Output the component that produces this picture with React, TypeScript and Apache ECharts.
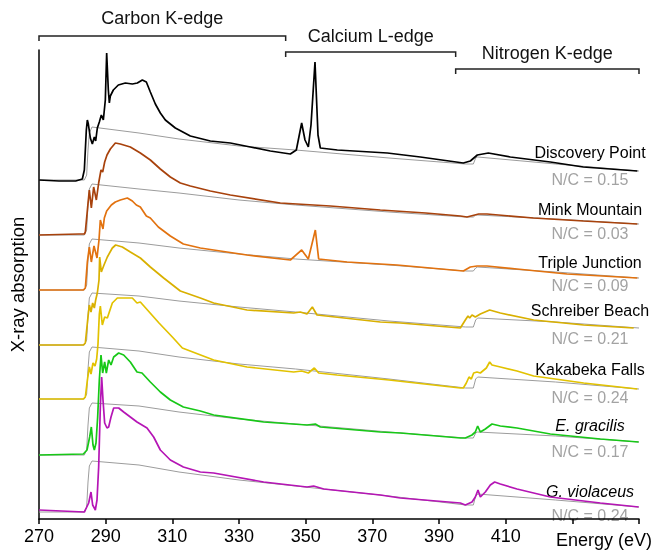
import React, { useEffect, useRef } from "react";
import * as echarts from "echarts";

const FONT = "'Liberation Sans', Arial, Helvetica, sans-serif";

// Energy axis (eV)
const energyMin = 270;
const energyMax = 450;
const energyStep = 20;
const hiddenTickLabels = [430, 450];

// Edge brackets at top
const edgeNames = ["Carbon K-edge", "Calcium L-edge", "Nitrogen K-edge"];
const edgeRanges = [[270, 344], [344, 395], [395, 450]];

// Samples
const sampleNames = ["Discovery Point", "Mink Mountain", "Triple Junction", "Schreiber Beach", "Kakabeka Falls", "E. gracilis", "G. violaceus"];
const sampleItalic = [false, false, false, false, false, true, true];
const nitrogenCarbonRatios = ["0.15", "0.03", "0.09", "0.21", "0.24", "0.17", "0.24"];
const sampleColors = ["#000000", "#A8420C", "#E2720F", "#D9B000", "#E2C200", "#17C817", "#B515B5"];

// Spectra (energy eV, stacked absorption a.u.)
const discoveryPoint = [
  [270, 339], [276, 338], [281, 338], [283, 340], [283.6, 349], [284.2, 389], [284.5, 399], [284.8, 395], [285.4, 381], [286, 375], [286.6, 382], [287, 378], [287.5, 391], [288.1, 397], [288.7, 404], [289.3, 399], [289.9, 419], [290.3, 466], [290.8, 429], [291.1, 416], [291.4, 423], [292.3, 429], [293.8, 434], [295.9, 436], [298, 435], [299.5, 436], [301, 439], [302.2, 437], [303.4, 427], [304.9, 415], [306.4, 406], [307.9, 399], [310.9, 391], [315.4, 383], [321.4, 378], [327.4, 376], [333.4, 372], [339.4, 368], [345.4, 365], [347.2, 369], [348.8, 396], [349.8, 379], [350.8, 372], [351.6, 394], [352.8, 457], [353.7, 384], [354.4, 371], [359.5, 369], [374.5, 366], [384.4, 362], [397.3, 356], [399.4, 358], [401.5, 364], [404.8, 366], [411.4, 362], [423.4, 357], [433.3, 352], [449.5, 348],
];
const minkMountain = [
  [270, 284], [282, 285], [283.6, 285], [283.9, 287], [284.6, 312], [285.1, 329], [285.7, 311], [286.4, 332], [287.2, 319], [287.9, 336], [288.6, 349], [289.1, 347], [289.7, 357], [290.4, 364], [291.4, 370], [292.9, 376], [294.4, 375], [297.4, 372], [300.4, 366], [303.4, 359], [306.4, 350], [309.4, 342], [312.4, 336], [315.4, 333], [321.4, 328], [327.4, 324], [342.4, 316], [357.4, 313], [372.4, 309], [386, 306], [396.4, 303], [398.4, 302], [401.9, 305], [404.4, 305], [418.3, 301], [433.3, 298], [449.5, 295],
];
const tripleJunction = [
  [270, 229], [283.3, 229], [283.9, 231], [284.5, 257], [285.1, 272], [285.7, 257], [286.5, 273], [287.4, 261], [288, 279], [288.4, 299], [289.2, 290], [289.6, 301], [290.3, 308], [291.7, 314], [292.9, 317], [294.4, 319], [296.5, 321], [298, 318], [299.2, 314], [300.4, 312], [302.2, 303], [303.4, 301], [305.8, 292], [309.4, 283], [313.3, 275], [318.4, 271], [322.4, 269], [332.4, 264], [345.4, 259], [348.8, 269], [350.8, 260], [352.9, 289], [353.9, 260], [362.4, 257], [377.4, 254], [397.3, 248], [399.4, 252], [401.4, 253], [404.4, 253], [413.4, 250], [428.4, 245], [449.5, 241],
];
const schreiberBeach = [
  [270, 174], [283.3, 174], [283.9, 176], [284.6, 199], [285.1, 214], [285.6, 207], [286.1, 216], [286.6, 211], [287, 219], [287.5, 226], [288, 239], [288.2, 262], [288.7, 247], [289.5, 254], [290.5, 262], [292, 271], [293, 274], [295, 272], [297.4, 267], [300.4, 261], [303.4, 252], [307.4, 241], [312.4, 228], [318.4, 221], [322.4, 216], [332.4, 209], [346.4, 206], [348.4, 207], [350.4, 205], [352, 212], [353.4, 204], [372.4, 197], [378.4, 196], [396.4, 191], [397.9, 199], [398.7, 203], [399.2, 201], [399.9, 204], [400.9, 202], [402.4, 205], [405.2, 209], [408.4, 206], [418.4, 199], [433.4, 194], [448.4, 191],
];
const kakabekaFalls = [
  [270, 120], [283.3, 120], [283.9, 122], [284.6, 141], [285.1, 152], [285.6, 145], [286.2, 156], [286.8, 153], [287.3, 160], [287.7, 175], [288.1, 205], [288.4, 213], [289, 194], [289.7, 202], [290.5, 201], [292, 216], [293.5, 221], [296.5, 221], [298, 221], [299.4, 216], [300.4, 217], [302, 211], [306, 196], [310, 182], [313, 171], [322.4, 159], [332.4, 152], [346.4, 147], [348.8, 148], [350.8, 146], [352.6, 151], [353.9, 146], [359.4, 144], [375, 139], [396.4, 131], [397.3, 131], [398.2, 136], [399, 142], [399.7, 140], [400.4, 146], [401.4, 147], [402.4, 146], [404.2, 151], [405.2, 157], [405.9, 154], [408.4, 152], [413.4, 148], [418.4, 143], [433.4, 136], [449.5, 130],
];
const eGracilis = [
  [270, 64], [283.3, 65], [284.4, 69], [285.2, 82], [285.7, 92], [286.2, 74], [286.6, 69], [287.1, 76], [287.6, 102], [288.1, 139], [288.6, 164], [289.1, 146], [289.7, 157], [290.2, 146], [290.9, 159], [291.6, 154], [292.4, 162], [293.9, 166], [295.4, 164], [297.4, 157], [299.4, 147], [300.9, 146], [303.4, 137], [306.4, 127], [309.4, 119], [313.3, 112], [318.4, 108], [322.4, 104], [337.4, 97], [350.4, 94], [352.9, 95], [354.4, 92], [372.4, 87], [378.4, 86], [396.4, 81], [397.9, 81], [399.9, 84], [400.9, 87], [401.6, 93], [402.4, 87], [403.9, 90], [405.9, 95], [408.4, 93], [413.4, 91], [423.4, 85], [438.4, 80], [449.9, 77],
];
const gViolaceus = [
  [270, 9], [283.6, 7], [283.9, 9], [284.9, 16], [285.6, 27], [286.1, 14], [286.9, 9], [287.4, 19], [287.9, 52], [288.4, 112], [288.8, 142], [289.2, 119], [289.7, 96], [290.4, 91], [290.9, 92], [291.6, 102], [292.4, 111], [293.9, 111], [295.4, 107], [297.4, 102], [299.4, 97], [302.4, 91], [304.4, 82], [306.4, 69], [309.4, 59], [313.3, 52], [318.4, 47], [322.4, 46], [337.4, 37], [350.4, 32], [352.4, 33], [355.4, 30], [372.4, 24], [378.4, 21], [396.4, 16], [397.9, 14], [399.9, 17], [400.9, 22], [401.7, 29], [402.4, 22], [403.9, 27], [405.4, 34], [406.7, 37], [408.4, 35], [413.4, 30], [423.4, 22], [438.4, 16], [449.9, 12],
];

// Edge-step baselines (gray)
const discoveryPointStep = [[270, 339], [283.6, 339], [284.3, 344], [284.7, 369], [285.1, 386], [285.9, 392], [300, 386], [312, 380], [330, 373], [347, 369], [375, 361], [398, 355], [400.3, 355], [401, 361], [401.6, 362], [425, 355], [450, 348]];
const minkMountainStep = [[270, 284], [283.6, 284], [284.3, 289], [284.7, 314], [285.1, 330], [285.9, 335], [300, 330], [312, 326], [330, 319], [347, 314], [375, 307], [398, 302], [400.3, 302], [401, 304], [401.6, 304], [425, 300], [450, 295]];
const tripleJunctionStep = [[270, 229], [283.6, 229], [284.3, 234], [284.7, 259], [285.1, 275], [285.9, 280], [300, 276], [312, 271], [330, 265], [347, 260], [375, 254], [398, 248], [400.3, 248], [401, 251], [401.6, 252], [425, 247], [450, 241]];
const schreiberBeachStep = [[270, 174], [283.6, 174], [284.3, 179], [284.7, 204], [285.1, 221], [285.9, 226], [300, 223], [312, 218], [330, 212], [347, 207], [375, 198], [398, 192], [400.3, 192], [401, 199], [401.6, 201], [425, 197], [450, 191]];
const kakabekaFallsStep = [[270, 120], [283.6, 120], [284.3, 125], [284.7, 150], [285.1, 167], [285.9, 172], [300, 168], [312, 162], [330, 155], [347, 150], [375, 140], [398, 131], [400.3, 131], [401, 140], [401.6, 142], [425, 137], [450, 130]];
const eGracilisStep = [[270, 64], [283.6, 64], [284.3, 69], [284.7, 94], [285.1, 111], [285.9, 116], [300, 113], [312, 107], [330, 100], [347, 95], [375, 87], [398, 81], [400.3, 81], [401, 86], [401.6, 87], [425, 83], [450, 77]];
const gViolaceusStep = [[270, 7], [283.6, 7], [284.3, 12], [284.7, 37], [285.1, 53], [285.9, 58], [300, 54], [312, 47], [330, 39], [347, 33], [375, 23], [398, 14], [400.3, 14], [401, 23], [401.6, 25], [425, 19], [450, 12]];

const spectra = [discoveryPoint, minkMountain, tripleJunction, schreiberBeach, kakabekaFalls, eGracilis, gViolaceus];
const steps = [discoveryPointStep, minkMountainStep, tripleJunctionStep, schreiberBeachStep, kakabekaFallsStep, eGracilisStep, gViolaceusStep];

// Layout (pixels)
const labelCenterX = 590;
const nameY = [152, 209, 262, 310, 369, 425, 491];
const ratioY = [179, 233, 285, 338, 397, 451, 515];
const bracketY = [36, 52, 69];
const bracketLabelY = [18, 36, 53];

export default function App() {
  const ref = useRef<HTMLDivElement>(null);
  useEffect(() => {
    if (!ref.current) return;
    const chart = echarts.init(ref.current, null, { renderer: "svg" });
    const series: any[] = [];
    steps.forEach((d) => {
      series.push({
        type: "line", data: d, symbol: "none", silent: true, z: 1,
        lineStyle: { color: "#9c9c9c", width: 1 },
      });
    });
    spectra.forEach((d, i) => {
      series.push({
        type: "line", data: d, symbol: "none", z: 2,
        lineStyle: { color: sampleColors[i], width: 1.7 },
      });
    });
    chart.setOption({
      animation: false,
      textStyle: { fontFamily: FONT },
      grid: { left: 39, right: 17, top: 50, bottom: 32, containLabel: false, outerBoundsMode: "none" },
      xAxis: {
        type: "value", min: energyMin, max: energyMax, interval: energyStep,
        axisLine: { lineStyle: { color: "#000", width: 1.5 } },
        axisTick: { length: 5, lineStyle: { color: "#000", width: 1.5 } },
        axisLabel: {
          fontSize: 18, color: "#000", margin: 8, fontFamily: FONT,
          formatter: (v: number) => (hiddenTickLabels.includes(v) ? "" : String(v)),
        },
        splitLine: { show: false },
      },
      yAxis: {
        type: "value", min: 0, max: 469,
        axisLine: { show: true, lineStyle: { color: "#000", width: 1.5 } },
        axisTick: { show: false }, axisLabel: { show: false }, splitLine: { show: false },
        name: "X-ray absorption", nameLocation: "middle", nameGap: 12,
        nameTextStyle: { fontSize: 18.5, color: "#000", fontFamily: FONT },
      },
      series,
    });

    const px = (e: number) => chart.convertToPixel({ gridIndex: 0 }, [e, 0])[0];
    const graphic: any[] = [];
    edgeRanges.forEach((r, i) => {
      const x1 = px(r[0]);
      const x2 = px(r[1]);
      const y = bracketY[i];
      graphic.push({
        type: "polyline",
        shape: { points: [[x1, y + 5], [x1, y], [x2, y], [x2, y + 5]] },
        style: { stroke: "#222", lineWidth: 1.5, fill: null },
      });
      graphic.push({
        type: "text", x: (x1 + x2) / 2, y: bracketLabelY[i],
        style: { text: edgeNames[i], fontSize: 18, fontFamily: FONT, fill: "#111", align: "center", verticalAlign: "middle", textAlign: "center", textVerticalAlign: "middle" },
      });
    });
    sampleNames.forEach((n, i) => {
      graphic.push({
        type: "text", x: labelCenterX, y: nameY[i],
        style: { text: n, fontSize: 16, fontFamily: FONT, fontStyle: sampleItalic[i] ? "italic" : "normal", fill: "#000", align: "center", verticalAlign: "middle", textAlign: "center", textVerticalAlign: "middle" },
      });
      graphic.push({
        type: "text", x: labelCenterX, y: ratioY[i],
        style: { text: "N/C = " + nitrogenCarbonRatios[i], fontSize: 16, fontFamily: FONT, fill: "#a3a3a3", align: "center", verticalAlign: "middle", textAlign: "center", textVerticalAlign: "middle" },
      });
    });
    graphic.push({
      type: "text", x: 652, y: 540,
      style: { text: "Energy (eV)", fontSize: 18, fontFamily: FONT, fill: "#000", align: "right", verticalAlign: "middle", textAlign: "right", textVerticalAlign: "middle" },
    });
    chart.setOption({ graphic });
    return () => chart.dispose();
  }, []);
  return <div ref={ref} style={{ position: "fixed", left: 0, top: 0, width: 656, height: 551 }} />;
}
